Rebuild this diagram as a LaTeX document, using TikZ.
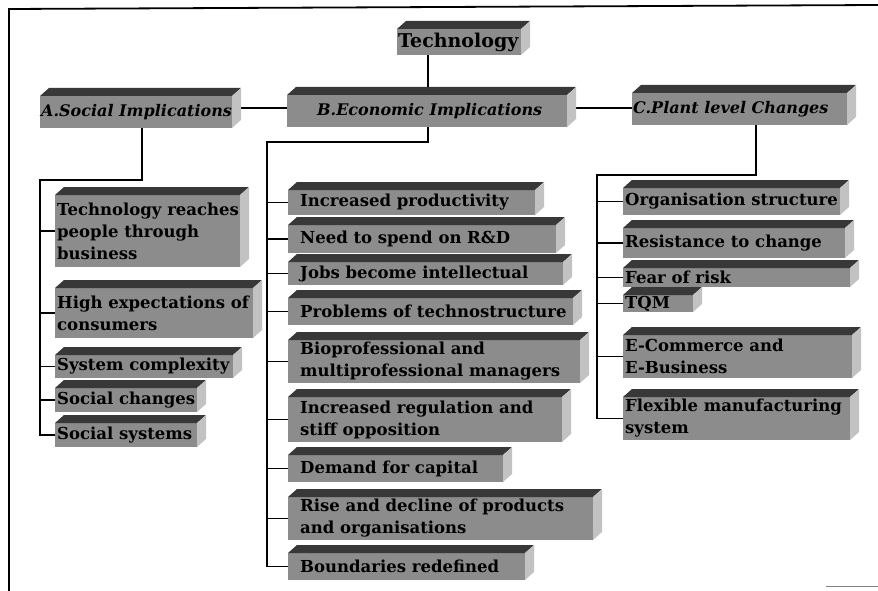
\documentclass[tikz,border=0pt]{standalone}
\usepackage{fontspec}
\setmainfont{DejaVu Serif}
\pgfdeclarelayer{bg}
\pgfsetlayers{bg,main}
\definecolor{frontc}{gray}{0.55}
\definecolor{topc}{gray}{0.22}
\definecolor{sidec}{gray}{0.76}
\def\dpx{9}
\def\dpy{8}
% #1 text style, #2 name, #3 x, #4 y, #5 w, #6 h, #7 indent, #8 text
\newcommand{\tdbox}[8][boxtext]{%
  \node[front, minimum width=#5pt, minimum height=#6pt, anchor=north west] (#2) at (#3,#4) {};
  \fill[topface] (#2.north west) -- ++(\dpx,-\dpy) -- ([xshift=\dpx pt,yshift=\dpy pt]#2.north east) -- (#2.north east) -- cycle;
  \fill[sideface] (#2.north east) -- ++(\dpx,-\dpy) -- ([xshift=\dpx pt,yshift=\dpy pt]#2.south east) -- (#2.south east) -- cycle;
  \node[#1, anchor=west] (#2-t) at ([xshift=#7pt]#2.west) {#8};
}
\begin{document}
\begin{tikzpicture}[x=1pt,y=-1pt,
  front/.style={fill=frontc, inner sep=0pt, outer sep=0pt},
  boxtext/.style={inner sep=0pt, align=left, font=\bfseries\fontsize{16.5}{22}\selectfont},
  titletext/.style={inner sep=0pt, align=left, font=\bfseries\fontsize{19}{22}\selectfont},
  hdtext/.style={inner sep=0pt, align=left, font=\bfseries\itshape\fontsize{16}{22}\selectfont},
  topface/.style={fill=topc},
  sideface/.style={fill=sidec},
  conn/.style={line width=1.8pt, black},
  frame/.style={line width=1.8pt, black}]
\useasboundingbox (0,0) rectangle (878,591);
\draw[frame] (9,591) -- (9,9) -- (878,5);
\draw[gray, line width=1pt] (826,586) -- (878,586);

% top level
\tdbox[titletext]{tech}{397}{29}{124}{26}{1}{Technology}
\tdbox[hdtext]{nA}{40}{96}{192}{32}{1}{A.Social Implications}
\tdbox[hdtext]{nB}{287}{95}{280}{32}{30}{B.Economic Implications}
\tdbox[hdtext]{nC}{632}{93}{215}{32}{1}{C.Plant level Changes}

% A children
\tdbox{a1}{55}{195}{185}{72}{2}{Technology reaches\\people through\\business}
\tdbox{a2}{55}{288}{198}{50}{2}{High expectations of\\consumers}
\tdbox{a3}{55}{355}{178}{23}{2}{System complexity}
\tdbox{a4}{55}{388}{142}{24}{2}{Social changes}
\tdbox{a5}{55}{423}{142}{24}{2}{Social systems}

% B children
\tdbox{b1}{288}{190}{247}{25}{12}{Increased productivity}
\tdbox{b2}{288}{225}{268}{28}{12}{Need to spend on R\&D}
\tdbox{b3}{288}{262}{275}{23}{12}{Jobs become intellectual}
\tdbox{b4}{288}{298}{285}{27}{12}{Problems of technostructure}
\tdbox{b5}{288}{340}{292}{43}{12}{Bioprofessional and\\multiprofessional managers}
\tdbox{b6}{288}{397}{274}{45}{12}{Increased regulation and\\stiff opposition}
\tdbox{b7}{288}{455}{215}{27}{12}{Demand for capital}
\tdbox{b8}{288}{497}{305}{43}{12}{Rise and decline of products\\and organisations}
\tdbox{b9}{288}{553}{237}{27}{12}{Boundaries redefined}

% C children
\tdbox{c1}{623}{188}{217}{27}{2}{Organisation structure}
\tdbox{c2}{623}{228}{222}{30}{2}{Resistance to change}
\tdbox{c3}{623}{268}{227}{19}{2}{Fear of risk}
\tdbox{c4}{623}{295}{70}{17}{2}{TQM}
\tdbox{c5}{623}{335}{229}{43}{2}{E-Commerce and\\E-Business}
\tdbox{c6}{623}{397}{227}{43}{2}{Flexible manufacturing\\system}

\begin{pgfonlayer}{bg}
\draw[conn] ([xshift=31pt]tech.south west) -- ([xshift=31pt]tech.south west |- nB.north);
\draw[conn] ([yshift=4pt]nA.east) -- ([yshift=4pt]nA.east -| nB.west);
\draw[conn] ([yshift=3pt]nB.east) -- ([yshift=3pt]nB.east -| nC.west);
\coordinate (spA) at (40,180);
\coordinate (spB) at (267,142);
\coordinate (spC) at (597,175);
\draw[conn] ([xshift=102pt]nA.south west) |- (spA) |- (a5.west);
\foreach \i in {1,...,4} \draw[conn] (a\i.west -| spA) -- (a\i.west);
\draw[conn] ([xshift=141pt]nB.south west) |- (spB) |- (b9.west);
\foreach \i in {1,...,8} \draw[conn] (b\i.west -| spB) -- (b\i.west);
\draw[conn] ([xshift=124pt]nC.south west) |- (spC) |- (c6.west);
\foreach \i in {1,...,5} \draw[conn] (c\i.west -| spC) -- (c\i.west);
\end{pgfonlayer}
\end{tikzpicture}
\end{document}
